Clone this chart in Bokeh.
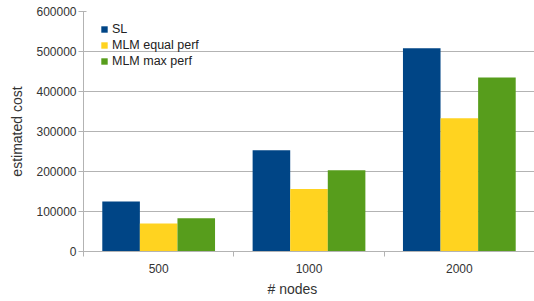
from bokeh.plotting import figure
from bokeh.models import ColumnDataSource, FixedTicker, SingleIntervalTicker, NumeralTickFormatter, Range1d, Legend, LegendItem, Title
from bokeh.embed import file_html
from bokeh.resources import INLINE
import numpy as np

categories = ["500", "1000", "2000"]
series_names = ["SL", "MLM equal perf", "MLM max perf"]
sl = [125000, 253000, 508000]
mlm_equal = [70000, 156000, 333000]
mlm_max = [83000, 203000, 435000]
colors = ["#004586", "#ffd320", "#579d1c"]
y_ticks_interval = 100000

FONT = "Liberation Sans"
GRID = "#b3b3b3"

p = figure(width=534, height=301, output_backend="svg", toolbar_location=None,
           x_range=Range1d(0, len(categories)), y_range=Range1d(0, 600000),
           min_border_left=83, min_border_right=0, min_border_top=11, min_border_bottom=50)
p.outline_line_color = None
p.background_fill_color = "white"
p.border_fill_color = "white"

centers = np.arange(len(categories)) + 0.5
bar_w = 0.25
offsets = [-0.25, 0.0, 0.25]
renderers = []
for vals, off, col in zip([sl, mlm_equal, mlm_max], offsets, colors):
    src = ColumnDataSource(dict(x=centers + off, top=vals))
    r = p.vbar(x="x", top="top", width=bar_w, bottom=0, source=src,
               fill_color=col, line_color=None)
    renderers.append(r)

# x axis
xa = p.xaxis[0]
xa.ticker = FixedTicker(ticks=list(centers), minor_ticks=list(np.arange(len(categories) + 1)))
xa.major_label_overrides = {float(c): lab for c, lab in zip(centers, categories)}
xa.major_tick_line_color = None
xa.major_tick_out = 0
xa.major_tick_in = 0
xa.minor_tick_line_color = GRID
xa.minor_tick_out = 5
xa.minor_tick_in = 0
xa.axis_line_color = GRID
xa.major_label_text_font = FONT
xa.major_label_text_font_size = "12px"
xa.major_label_text_color = "#333333"
xa.major_label_standoff = 7

xtitle = Title(text="# nodes", align="left", offset=184, standoff=7,
               text_font=FONT, text_font_size="14px", text_font_style="normal",
               text_color="#333333")
p.add_layout(xtitle, "below")

ya = p.yaxis[0]
ya.ticker = SingleIntervalTicker(interval=y_ticks_interval, num_minor_ticks=0)
ya.formatter = NumeralTickFormatter(format="0")
ya.major_tick_line_color = GRID
ya.major_tick_out = 5
ya.major_tick_in = 3
ya.minor_tick_line_color = None
ya.axis_line_color = GRID
ya.major_label_text_font = FONT
ya.major_label_text_font_size = "12px"
ya.major_label_text_color = "#333333"
ya.major_label_standoff = 2
ya.axis_label = "estimated cost"
ya.axis_label_text_font = FONT
ya.axis_label_text_font_size = "14px"
ya.axis_label_text_font_style = "normal"
ya.axis_label_text_color = "#333333"
ya.axis_label_standoff = 8

p.xgrid.grid_line_color = None
p.ygrid.grid_line_color = GRID
p.ygrid.ticker = ya.ticker

legend = Legend(items=[LegendItem(label=n, renderers=[r]) for n, r in zip(series_names, renderers)],
                location=(17, 182))
legend.margin = 0
legend.padding = 0
legend.spacing = 0
legend.border_line_color = None
legend.background_fill_alpha = 0
legend.glyph_width = 8
legend.glyph_height = 8
legend.label_height = 16
legend.label_standoff = 4
legend.label_text_font = FONT
legend.label_text_font_size = "12.5px"
legend.label_text_color = "#222222"
p.add_layout(legend)

open("out.html", "w").write(file_html(p, INLINE))
